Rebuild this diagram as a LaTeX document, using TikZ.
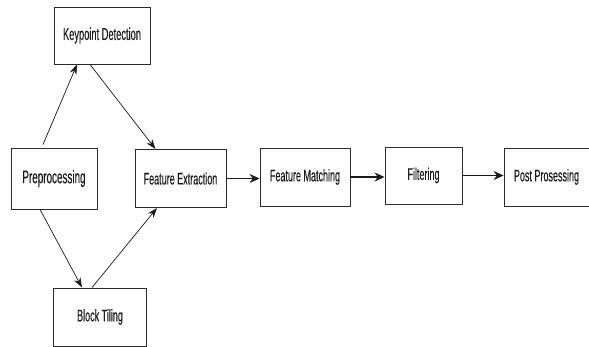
\documentclass[tikz,border=0pt]{standalone}
\usepackage{fontspec}
\setmainfont{Liberation Sans}
\newfontfamily\narrowfont[FakeStretch=0.54,FakeBold=0.15]{Liberation Sans}
\usetikzlibrary{arrows.meta}
\definecolor{ink}{HTML}{1A1A1A}
\definecolor{frame}{HTML}{2B2B2B}
\tikzset{
  stage/.style={draw=frame,line width=0.9pt,fill=white,text=ink,inner sep=0pt,font=\narrowfont\fontsize{16.7}{18}\selectfont},
  flow/.style={ink,line width=0.7pt,-{Stealth[length=10pt,width=7pt]}},
  pipe/.style={ink,line width=1.3pt,-{Stealth[length=10pt,width=9pt]}}
}

\begin{document}
\begin{tikzpicture}[x=1pt,y=-1pt]
  \useasboundingbox (0,0) rectangle (589,347);
  \fill[white] (0,0) rectangle (589,347);
  % left branch
  \node[stage,minimum width=86,minimum height=61,font=\narrowfont\fontsize{18.3}{19}\selectfont] (prep) at (54,178.5) {Preprocessing};
  \node[stage,minimum width=96,minimum height=57,font=\narrowfont\fontsize{17.2}{18}\selectfont] (kp) at (102,35.5) {Keypoint Detection};
  \node[stage,minimum width=93,minimum height=58] (bt) at (100,317) {Block Tiling};
  % main row
  \node[stage,minimum width=91,minimum height=58] (fe) at (180.5,178.5) {Feature Extraction};
  \node[stage,minimum width=90,minimum height=58] (fm) at (305,177) {Feature Matching};
  \node[stage,minimum width=77,minimum height=57] (filt) at (423.5,175.5) {Filtering};
  \node[stage,minimum width=85,minimum height=58] (pp) at (546.5,177) {Post Prosessing};
  \draw[flow] ([xshift=-11pt,yshift=3pt]prep.north) -- ([xshift=-25pt]kp.south);
  \draw[flow] ([xshift=-12pt]kp.south) -- ([xshift=-25pt]fe.north);
  \draw[flow] ([xshift=-14pt]prep.south) -- ([xshift=-18pt]bt.north);
  \draw[flow] ([xshift=-8pt]bt.north) -- ([xshift=-23.5pt]fe.south);
  \draw[pipe] (fe.east) -- (fe.east -| fm.west);
  \draw[pipe] (fm.east) -- (fm.east -| filt.west);
  \draw[pipe] (filt.east) -- (filt.east -| pp.west);
\end{tikzpicture}
\end{document}
